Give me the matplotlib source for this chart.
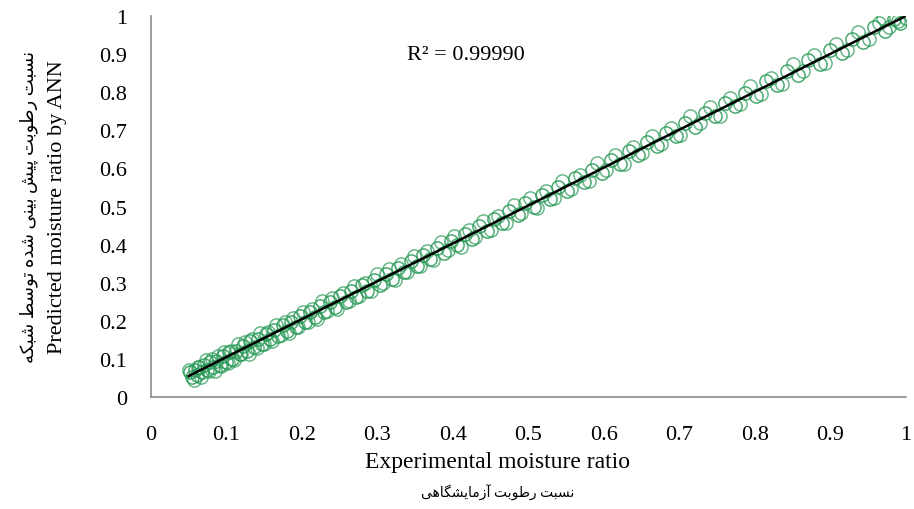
import numpy as np
import matplotlib
matplotlib.use("Agg")
import matplotlib.pyplot as plt

# Datos (MR experimental vs MR predicho por la red)
# Serie 1
mr_exp = [0.052, 0.055, 0.058, 0.061, 0.064, 0.068, 0.071, 0.075, 0.079, 0.083,
          0.087, 0.091, 0.095, 0.099, 0.104, 0.108, 0.113, 0.118, 0.122, 0.127,
          0.132, 0.137, 0.142, 0.147, 0.152, 0.158, 0.163, 0.169, 0.175, 0.180,
          0.186, 0.192, 0.198, 0.204, 0.211, 0.217, 0.224, 0.230, 0.237, 0.244,
          0.251, 0.258, 0.265, 0.272, 0.280, 0.287, 0.295, 0.303, 0.311, 0.319,
          0.327, 0.335, 0.344, 0.352, 0.361, 0.370, 0.379, 0.388, 0.397, 0.406,
          0.416, 0.425, 0.435, 0.445, 0.455, 0.465, 0.475, 0.486, 0.496, 0.507,
          0.518, 0.529, 0.540, 0.551, 0.562, 0.574, 0.585, 0.597, 0.609, 0.621,
          0.633, 0.645, 0.657, 0.670, 0.682, 0.695, 0.708, 0.721, 0.734, 0.747,
          0.760, 0.774, 0.787, 0.801, 0.815, 0.829, 0.843, 0.857, 0.871, 0.886,
          0.900, 0.915, 0.929, 0.944, 0.958, 0.972, 0.985, 0.993, 1.000]
mr_ann = [0.066, 0.052, 0.070, 0.057, 0.080, 0.066, 0.083, 0.071, 0.092, 0.078,
          0.094, 0.083, 0.108, 0.092, 0.117, 0.100, 0.122, 0.112, 0.134, 0.120,
          0.146, 0.130, 0.152, 0.139, 0.166, 0.151, 0.175, 0.160, 0.188, 0.172,
          0.197, 0.183, 0.212, 0.196, 0.222, 0.209, 0.238, 0.222, 0.249, 0.236,
          0.264, 0.250, 0.277, 0.263, 0.293, 0.279, 0.306, 0.295, 0.324, 0.310,
          0.338, 0.327, 0.357, 0.343, 0.373, 0.362, 0.392, 0.379, 0.410, 0.398,
          0.428, 0.416, 0.448, 0.437, 0.467, 0.456, 0.487, 0.477, 0.509, 0.498,
          0.530, 0.520, 0.552, 0.541, 0.575, 0.565, 0.596, 0.587, 0.621, 0.611,
          0.645, 0.635, 0.669, 0.660, 0.694, 0.685, 0.719, 0.710, 0.746, 0.737,
          0.771, 0.763, 0.799, 0.790, 0.830, 0.818, 0.855, 0.846, 0.884, 0.875,
          0.912, 0.904, 0.941, 0.933, 0.971, 0.962, 0.993, 0.983, 0.995]
# Serie 2
mr_exp2 = [0.050, 0.057, 0.063, 0.066, 0.073, 0.077, 0.081, 0.085, 0.089, 0.093,
           0.097, 0.102, 0.106, 0.110, 0.115, 0.120, 0.125, 0.130, 0.134, 0.140,
           0.145, 0.150, 0.155, 0.161, 0.166, 0.172, 0.178, 0.183, 0.189, 0.195,
           0.201, 0.208, 0.214, 0.220, 0.227, 0.234, 0.240, 0.247, 0.254, 0.262,
           0.269, 0.276, 0.284, 0.291, 0.299, 0.307, 0.315, 0.323, 0.331, 0.340,
           0.348, 0.357, 0.366, 0.374, 0.384, 0.393, 0.402, 0.411, 0.421, 0.430,
           0.440, 0.450, 0.460, 0.470, 0.481, 0.491, 0.502, 0.512, 0.523, 0.534,
           0.545, 0.557, 0.568, 0.580, 0.591, 0.603, 0.615, 0.627, 0.639, 0.651,
           0.664, 0.676, 0.689, 0.701, 0.714, 0.727, 0.741, 0.754, 0.767, 0.781,
           0.794, 0.808, 0.822, 0.836, 0.850, 0.864, 0.879, 0.893, 0.908, 0.922,
           0.937, 0.951, 0.965, 0.970, 0.978, 0.990]
mr_ann2 = [0.072, 0.045, 0.079, 0.052, 0.097, 0.069, 0.101, 0.069, 0.107, 0.082,
           0.119, 0.090, 0.122, 0.096, 0.139, 0.112, 0.145, 0.114, 0.152, 0.129,
           0.167, 0.138, 0.171, 0.147, 0.190, 0.164, 0.198, 0.167, 0.207, 0.184,
           0.223, 0.196, 0.230, 0.206, 0.251, 0.226, 0.260, 0.231, 0.272, 0.251,
           0.291, 0.264, 0.300, 0.277, 0.323, 0.299, 0.335, 0.307, 0.349, 0.329,
           0.370, 0.345, 0.382, 0.360, 0.408, 0.385, 0.422, 0.395, 0.439, 0.419,
           0.462, 0.438, 0.476, 0.456, 0.505, 0.483, 0.522, 0.496, 0.541, 0.523,
           0.567, 0.545, 0.584, 0.566, 0.615, 0.595, 0.635, 0.611, 0.657, 0.640,
           0.686, 0.664, 0.705, 0.687, 0.738, 0.719, 0.761, 0.738, 0.785, 0.770,
           0.816, 0.796, 0.838, 0.822, 0.874, 0.856, 0.899, 0.877, 0.926, 0.911,
           0.959, 0.939, 0.981, 0.994, 0.972, 0.986]

# Linea de tendencia
fit_x = [0.05, 1.0]
fit_y = [0.055, 1.0]

ticks = [0, 0.1, 0.2, 0.3, 0.4, 0.5, 0.6, 0.7, 0.8, 0.9, 1]
tick_labels = ["0", "0.1", "0.2", "0.3", "0.4", "0.5", "0.6", "0.7", "0.8", "0.9", "1"]

r2_text = "R\u00b2 = 0.99990"
xlabel_en = "Experimental moisture ratio"
xlabel_fa = "نسبت رطوبت آزمایشگاهی"
ylabel_en = "Predicted moisture ratio by ANN"
ylabel_fa = "نسبت رطوبت پیش بینی شده توسط شبکه"

# Formas de presentacion: aislada, final, inicial, media
FORMS = {
    "ا": ("\uFE8D", "\uFE8E"), "آ": ("\uFE81", "\uFE82"),
    "د": ("\uFEA9", "\uFEAA"), "ر": ("\uFEAD", "\uFEAE"),
    "ز": ("\uFEAF", "\uFEB0"), "و": ("\uFEED", "\uFEEE"),
    "ب": ("\uFE8F", "\uFE90", "\uFE91", "\uFE92"),
    "پ": ("\uFB56", "\uFB57", "\uFB58", "\uFB59"),
    "ت": ("\uFE95", "\uFE96", "\uFE97", "\uFE98"),
    "س": ("\uFEB1", "\uFEB2", "\uFEB3", "\uFEB4"),
    "ش": ("\uFEB5", "\uFEB6", "\uFEB7", "\uFEB8"),
    "ط": ("\uFEC1", "\uFEC2", "\uFEC3", "\uFEC4"),
    "ک": ("\uFB8E", "\uFB8F", "\uFB90", "\uFB91"),
    "گ": ("\uFB92", "\uFB93", "\uFB94", "\uFB95"),
    "م": ("\uFEE1", "\uFEE2", "\uFEE3", "\uFEE4"),
    "ن": ("\uFEE5", "\uFEE6", "\uFEE7", "\uFEE8"),
    "ه": ("\uFEE9", "\uFEEA", "\uFEEB", "\uFEEC"),
    "ی": ("\uFBFC", "\uFBFD", "\uFBFE", "\uFBFF"),
}


def farsi(s):
    # une las letras y las pone en orden visual (de derecha a izquierda)
    out = []
    for i, ch in enumerate(s):
        if ch not in FORMS:
            out.append(ch)
            continue
        prev = s[i - 1] if i > 0 else ""
        nxt = s[i + 1] if i + 1 < len(s) else ""
        left = prev in FORMS and len(FORMS[prev]) == 4
        right = len(FORMS[ch]) == 4 and nxt in FORMS
        f = FORMS[ch]
        if left and right:
            out.append(f[3])
        elif left:
            out.append(f[1])
        elif right:
            out.append(f[2])
        else:
            out.append(f[0])
    return "".join(out)[::-1]


serif = ["Liberation Serif", "DejaVu Sans"]
green = "#2a9a58"

fig = plt.figure(figsize=(9.14, 5.10), dpi=100)
ax = fig.add_axes([0.165, 0.2196, 0.826, 0.747])

ax.plot(mr_exp, mr_ann, "o", ms=9.5, mfc="none", mec=green, mew=1.1, alpha=0.85)
ax.plot(mr_exp2, mr_ann2, "o", ms=9.5, mfc="none", mec=green, mew=1.1, alpha=0.7)
ax.plot(fit_x, fit_y, color="black", lw=1.8)

ax.set_xlim(0, 1)
ax.set_ylim(0, 1)
ax.set_xticks(ticks)
ax.set_yticks(ticks)
ax.set_xticklabels(tick_labels, family=serif, fontsize=16)
ax.set_yticklabels(tick_labels, family=serif, fontsize=16)
ax.tick_params(axis="x", length=0, pad=20)
ax.tick_params(axis="y", length=0, pad=17)
for s in ["top", "right"]:
    ax.spines[s].set_visible(False)
for s in ["left", "bottom"]:
    ax.spines[s].set_color("#8c8c8c")
    ax.spines[s].set_linewidth(1.2)

ax.text(0.339, 0.9, r2_text, family=serif, fontsize=16, va="center", ha="left")

fig.text(0.544, 0.094, xlabel_en, family=serif, fontsize=17, ha="center", va="center")
fig.text(0.544, 0.033, farsi(xlabel_fa), family=serif, fontsize=10, ha="center", va="center")
fig.text(0.063, 0.594, ylabel_en, family=serif, fontsize=16, ha="center", va="center", rotation=90)
fig.text(0.031, 0.594, farsi(ylabel_fa), family=serif, fontsize=13, ha="center", va="center", rotation=90)

fig.savefig("out.png", dpi=100)
